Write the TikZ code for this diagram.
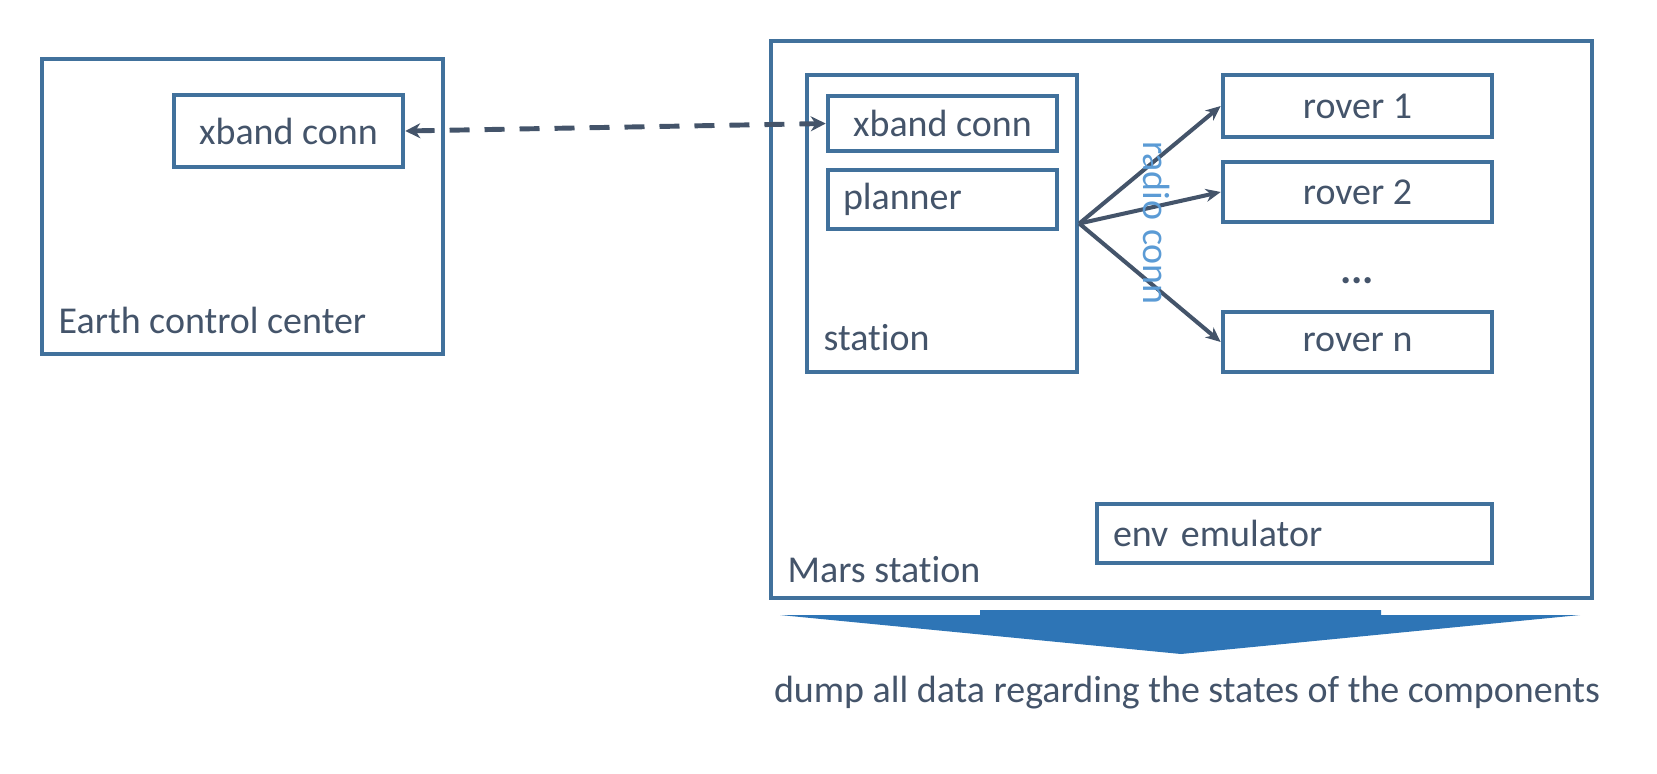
\documentclass[tikz,border=0pt]{standalone}
\usepackage{fontspec}
\setmainfont{Carlito}[Ligatures=CommonOff]
\usepackage{tikz}
\usetikzlibrary{arrows.meta, positioning}
\definecolor{boxblue}{RGB}{65,113,156}
\definecolor{textslate}{RGB}{68,84,106}
\definecolor{radioblue}{RGB}{91,155,213}
\definecolor{dumpblue}{RGB}{46,117,182}
\tikzset{
  unitbox/.style={rectangle, draw=boxblue, line width=1.3pt, inner sep=0pt,
    text=textslate, font=\fontsize{10.8}{12}\selectfont},
  leftbox/.style={unitbox, align=left, inner xsep=0.15cm},
  boxlabel/.style={inner sep=0pt, text=textslate, font=\fontsize{10.8}{12}\selectfont},
  xbandlink/.style={{Stealth[length=0.15cm,width=0.15cm]}-{Stealth[length=0.15cm,width=0.15cm]},
    line width=1.4pt, color=textslate, dash pattern=on 0.2cm off 0.15cm},
  radiolink/.style={-{Stealth[length=0.15cm,width=0.13cm]}, line width=1.15pt, color=textslate}
}
\begin{document}
\begin{tikzpicture}
  \useasboundingbox (0,0) rectangle (16.57,-7.73);

  % Earth side
  \node[unitbox, minimum width=4.01cm, minimum height=2.95cm] (earth) at (2.425,-2.065) {};
  \node[unitbox, minimum width=2.29cm, minimum height=0.72cm] (earthx) at (2.885,-1.31) {xband conn};
  \node[boxlabel, anchor=base west] (earthlbl) at (0.58,-3.33) {Earth control center};

  % Mars side
  \node[unitbox, minimum width=8.21cm, minimum height=5.57cm] (mars) at (11.815,-3.195) {};
  \node[boxlabel, anchor=base west] (marslbl) at (7.87,-5.82) {Mars station};

  \node[unitbox, minimum width=2.70cm, minimum height=2.97cm] (station) at (9.42,-2.235) {};
  \node[boxlabel, anchor=base west] (stationlbl) at (8.23,-3.50) {station};
  \node[unitbox, minimum width=2.29cm, minimum height=0.55cm] (marsx) at (9.425,-1.235) {xband conn};
  \node[leftbox, text width=1.99cm, minimum height=0.59cm] (planner) at (9.425,-1.995) {planner};

  % rovers
  \node[unitbox, minimum width=2.69cm, minimum height=0.62cm] (rover1) at (13.575,-1.06) {rover 1};
  \node[unitbox, minimum width=2.69cm, minimum height=0.60cm] (rover2) at (13.575,-1.92) {rover 2};
  \node[boxlabel, font=\fontsize{12}{12}\selectfont\bfseries] (rdots) at (13.57,-2.81) {...};
  \node[unitbox, minimum width=2.69cm, minimum height=0.60cm] (rovern) at (13.575,-3.42) {rover n};

  \node[leftbox, text width=3.63cm, inner xsep=0.16cm, minimum height=0.59cm] (env) at (12.945,-5.335) {env emulator};

  % links
  \draw[xbandlink] (earthx.east) -- (marsx.west);
  \draw[radiolink] (station.east) -- (rover1.west);
  \draw[radiolink] (station.east) -- (rover2.west);
  \draw[radiolink] (station.east) -- (rovern.west);
  \node[rotate=-90, inner sep=0pt, text=radioblue, font=\fontsize{10.8}{12}\selectfont] (radiolbl) at (11.57,-2.23) {radio conn};

  % dump arrow
  \fill[dumpblue] (7.80,-6.15) -- (9.80,-6.15) -- (9.80,-6.10) -- (13.81,-6.10) -- (13.81,-6.15)
    -- (15.80,-6.15) -- (11.81,-6.54) -- cycle;
  \node[boxlabel, anchor=base] (dumplbl) at (11.87,-7.02) {dump all data regarding the states of the components};
\end{tikzpicture}
\end{document}
